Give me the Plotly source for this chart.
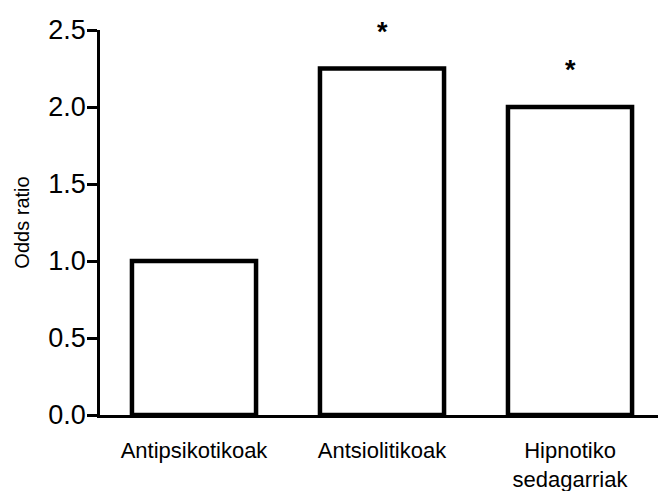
import plotly.graph_objects as go

# Odds ratios per drug group
categories = ["Antipsikotikoak", "Antsiolitikoak", "Hipnotiko<br>sedagarriak"]
odds_ratio = [1.0, 2.25, 2.0]
significance = ["", "*", "*"]

y_ticks = [0.0, 0.5, 1.0, 1.5, 2.0, 2.5]
y_tick_labels = ["0.0", "0.5", "1.0", "1.5", "2.0", "2.5"]

FONT = "Liberation Sans, Arial, sans-serif"

fig = go.Figure(
    go.Bar(
        x=categories,
        y=odds_ratio,
        marker=dict(color="white", line=dict(color="black", width=4.5)),
        width=0.66,
        hoverinfo="skip",
    )
)

# significance asterisks above the bars
for cat, val, mark in zip(categories, odds_ratio, significance):
    if mark:
        fig.add_annotation(
            x=cat, y=val + 0.24, text=f"<b>{mark}</b>", showarrow=False,
            font=dict(family=FONT, size=27, color="black"),
            yanchor="middle",
        )

fig.update_layout(
    width=658,
    height=491,
    margin=dict(l=100, r=0, t=30, b=76),
    paper_bgcolor="white",
    plot_bgcolor="white",
    showlegend=False,
    font=dict(family=FONT, color="black"),
)

fig.update_xaxes(
    type="category",
    range=[-0.5, 2.468],
    automargin=False,
    showline=True, linecolor="black", linewidth=2.5,
    ticks="", showgrid=False, zeroline=False,
    ticklabelstandoff=14,
    tickfont=dict(family=FONT, size=22, color="black"),
)

fig.update_yaxes(
    range=[0, 2.5],
    automargin=False,
    tickvals=y_ticks, ticktext=y_tick_labels,
    showline=True, linecolor="black", linewidth=2.5,
    ticks="outside", ticklen=10, tickwidth=2.5, tickcolor="black",
    ticklabelstandoff=-4,
    showgrid=False, zeroline=False,
    tickfont=dict(family=FONT, size=27, color="black"),
    title=dict(text="Odds ratio", font=dict(family=FONT, size=20, color="black"), standoff=14),
)

fig.write_html("out.html")
